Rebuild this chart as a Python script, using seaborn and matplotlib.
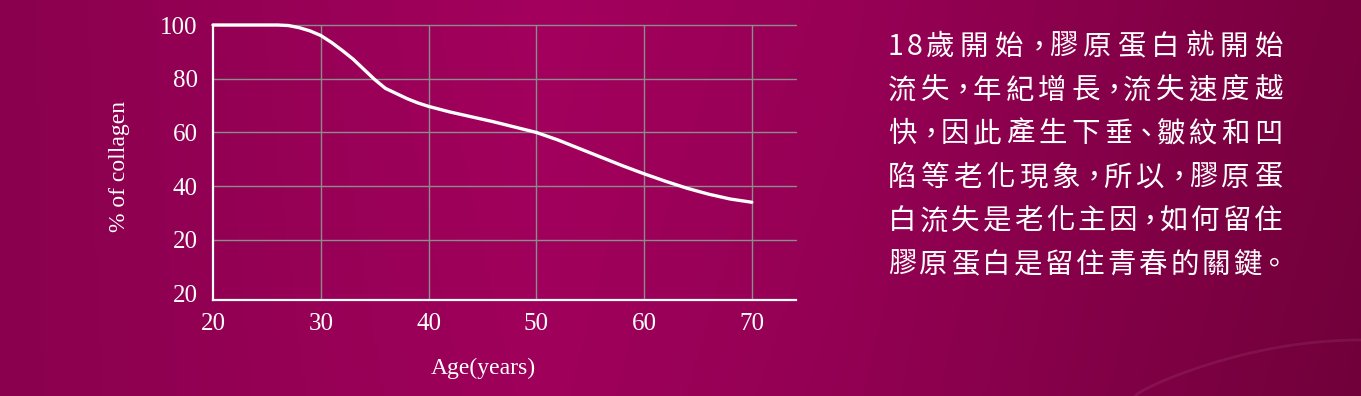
import numpy as np
import pandas as pd
import matplotlib
matplotlib.use("Agg")
import matplotlib.pyplot as plt
import seaborn as sns

# data
ages = [20, 22, 24, 26, 27, 28, 29, 30, 31, 32, 33, 34, 35, 36, 37, 38, 39, 40,
        42, 44, 46, 48, 50, 52, 54, 56, 58, 60, 62, 64, 66, 68, 70]
collagen = [100, 100, 100, 100, 99.8, 99.0, 97.8, 96.1, 93.5, 90.5, 87.3, 83.5, 79.7,
            76.4, 74.5, 72.6, 71.0, 69.7, 67.6, 65.8, 64.0, 62.0, 60.0, 57.2, 54.0,
            50.8, 47.6, 44.6, 41.8, 39.2, 37.0, 35.2, 34.0]
x_ticks = [20, 30, 40, 50, 60, 70]
y_ticks = [0, 20, 40, 60, 80, 100]
y_tick_labels = ["20", "20", "40", "60", "80", "100"]

text_lines = [
    "18歲開始，膠原蛋白就開始",
    "流失，年紀增長，流失速度越",
    "快，因此產生下垂、皺紋和凹",
    "陷等老化現象，所以，膠原蛋",
    "白流失是老化主因，如何留住",
    "膠原蛋白是留住青春的關鍵。",
]

df = pd.DataFrame({"age": ages, "collagen": collagen})

sns.set_theme(style="white")
plt.rcParams["font.family"] = ["Liberation Serif", "DejaVu Serif"]

W, H = 1361, 396
fig = plt.figure(figsize=(W / 100, H / 100), dpi=100)

# background gradient (magenta)
stops = [(0.0, (0x8a, 0x00, 0x4e)), (0.40, (0xa3, 0x00, 0x5d)),
         (0.62, (0x98, 0x00, 0x56)), (1.0, (0x78, 0x00, 0x3e))]
xs = np.linspace(0, 1, 400)
sx = [s[0] for s in stops]
row = np.stack([np.interp(xs, sx, [s[1][c] for s in stops]) for c in range(3)], axis=-1) / 255
ys = np.linspace(0, 1, 100)[:, None, None]
grad = row[None, :, :] * (1 - 0.06 * ys * xs[None, :, None])
bg = fig.add_axes([0, 0, 1, 1])
bg.imshow(grad, aspect="auto", extent=[0, 1, 0, 1], origin="upper")
# faint decorative arc, bottom right
t = np.linspace(0, 1, 60)
bg.plot((1135 + 226 * t) / W, 1 - (396 - 56 * np.sin(t * np.pi / 2) ** 0.8) / H,
        color="white", alpha=0.07, linewidth=2)
bg.set_xlim(0, 1)
bg.set_ylim(0, 1)
bg.axis("off")

# chart
ax = fig.add_axes([213 / W, 1 - 300 / H, 583 / W, 275 / H])
ax.set_facecolor("none")
sns.lineplot(data=df, x="age", y="collagen", ax=ax, color="white", linewidth=2.4,
             clip_on=False, zorder=5)
ax.set_xlim(20, 74.1)
ax.set_ylim(-2.4, 100)
ax.set_xticks(x_ticks)
ax.set_yticks(y_ticks)
ax.set_yticklabels(y_tick_labels)
ax.tick_params(axis="both", length=0, labelcolor="white", labelsize=18)
ax.tick_params(axis="y", pad=11)
ax.tick_params(axis="x", pad=9)
for g in [20, 40, 60, 80, 100]:
    ax.axhline(g, color="#8c8c8c", linewidth=1, zorder=1, clip_on=False)
for g in [30, 40, 50, 60, 70]:
    ax.axvline(g, color="#8c8c8c", linewidth=1, zorder=1)
for s in ["top", "right"]:
    ax.spines[s].set_visible(False)
for s in ["left", "bottom"]:
    ax.spines[s].set_color("white")
    ax.spines[s].set_linewidth(1.6)
ax.set_xlabel("")
ax.set_ylabel("")

fig.text(483 / W, 1 - 368 / H, "Age(years)", color="white", fontsize=17,
         ha="center", va="center")
fig.text(119 / W, 1 - 167 / H, "% of collagen", color="white", fontsize=17,
         ha="center", va="center", rotation=90)

# right-hand paragraph: justified lines, placed character by character
cjk = ["Noto Sans CJK TC", "DejaVu Sans"]
punct = "，、。"


def weight(ch):
    if ch.isdigit():
        return 0.55
    if ch in punct:
        return 0.6
    return 1.0


x_left, x_right = 888, 1281
for i, line in enumerate(text_lines):
    y = 47 + i * 43.6
    last = line[-1]
    units = sum(weight(c) for c in line[:-1])
    if last in punct:
        a = (x_right - x_left - 7) / (units + 0.3)
    else:
        a = (x_right - x_left - 27) / units
    x = x_left
    for ch in line:
        if ch in punct:
            fig.text((x + 0.3 * a) / W, 1 - y / H, ch, color="white", fontsize=20.5,
                     family=cjk, ha="center", va="center")
        else:
            fig.text(x / W, 1 - y / H, ch, color="white", fontsize=20.5,
                     family=cjk, ha="left", va="center")
        x += weight(ch) * a

fig.savefig("out.png", dpi=100)
